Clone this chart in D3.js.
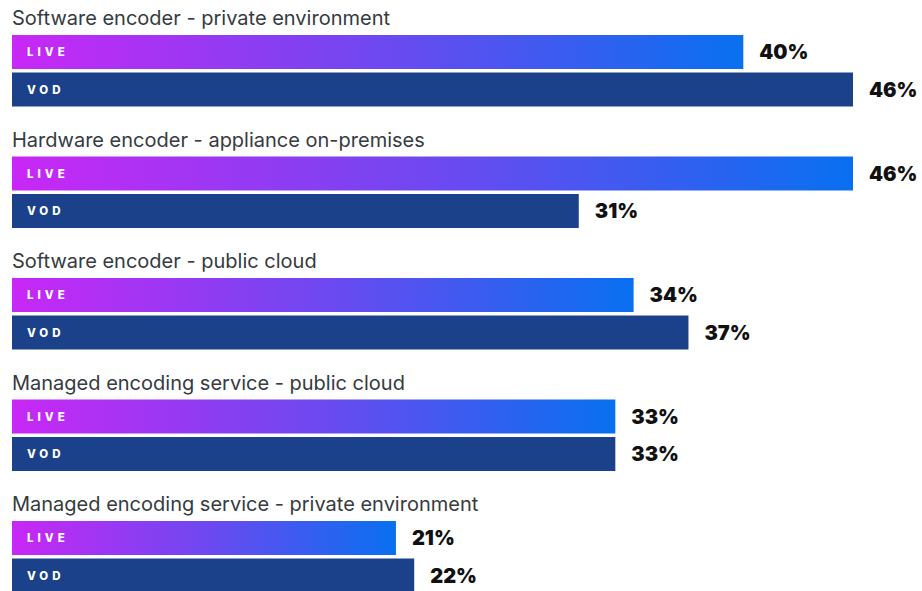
<!DOCTYPE html>
<html>
<head>
<meta charset="utf-8">
<script src="https://cdn.jsdelivr.net/npm/d3@7"></script>
<style>
  html, body { margin: 0; padding: 0; background: #fff; }
  svg { display: block; }
</style>
</head>
<body>
<svg id="chart" width="922" height="591"></svg>
<script>
// Encoding setups and the share of respondents using each, for live and VOD workflows
const categories = [
  "Software encoder - private environment",
  "Hardware encoder - appliance on-premises",
  "Software encoder - public cloud",
  "Managed encoding service - public cloud",
  "Managed encoding service - private environment"
];
const seriesNames = ["LIVE", "VOD"];
const liveValues = [40, 46, 34, 33, 21];
const vodValues = [46, 31, 37, 33, 22];

const rows = categories.map((c, i) => ({
  category: c,
  values: [
    { key: "LIVE", value: liveValues[i] },
    { key: "VOD", value: vodValues[i] }
  ]
}));

const svg = d3.select("#chart");

// Horizontal gradient used by the live bars, stretched over each bar's own length
const defs = svg.append("defs");
const grad = defs.append("linearGradient")
  .attr("id", "liveGradient")
  .attr("x1", "0%").attr("x2", "100%")
  .attr("y1", "0%").attr("y2", "0%");
grad.append("stop").attr("offset", "0%").attr("stop-color", "#c927f5");
grad.append("stop").attr("offset", "50%").attr("stop-color", "#6e48f0");
grad.append("stop").attr("offset", "100%").attr("stop-color", "#0870f0");

const x = d3.scaleLinear().domain([0, 46]).range([12, 853]);

const yGroup = d3.scaleBand()
  .domain(categories)
  .range([17, 17 + 5 * 121.5])
  .paddingInner(0)
  .paddingOuter(0);

const titleH = 18;
const ySeries = d3.scaleBand()
  .domain(seriesNames)
  .range([0, 71.5])
  .paddingInner(3.5 / 37.5)
  .paddingOuter(0);

const fill = { LIVE: "url(#liveGradient)", VOD: "#1b418a" };

const groups = svg.selectAll("g.group")
  .data(rows)
  .join("g")
  .attr("class", "group")
  .attr("transform", d => `translate(0,${yGroup(d.category)})`);

groups.append("text")
  .attr("x", 12)
  .attr("y", titleH - 10)
  .attr("font-family", "Inter, 'Noto Sans', sans-serif")
  .attr("font-size", 20)
  .attr("fill", "#353b41")
  .text(d => d.category);

const bars = groups.selectAll("g.bar")
  .data(d => d.values)
  .join("g")
  .attr("class", "bar")
  .attr("transform", d => `translate(0,${titleH + ySeries(d.key)})`);

bars.append("rect")
  .attr("x", x(0))
  .attr("y", 0)
  .attr("width", d => x(d.value) - x(0))
  .attr("height", ySeries.bandwidth())
  .attr("fill", d => fill[d.key]);

bars.append("text")
  .attr("x", 27)
  .attr("y", ySeries.bandwidth() / 2)
  .attr("dy", "0.36em")
  .attr("font-family", "Inter, 'Noto Sans', sans-serif")
  .attr("font-size", 11.5)
  .attr("font-weight", 800)
  .attr("letter-spacing", "4px")
  .attr("fill", "#ffffff")
  .text(d => d.key);

bars.append("text")
  .attr("x", d => x(d.value) + 16)
  .attr("y", ySeries.bandwidth() / 2)
  .attr("dy", "0.36em")
  .attr("font-family", "Inter, 'Noto Sans', sans-serif")
  .attr("font-size", 20)
  .attr("font-weight", 900)
  .attr("fill", "#111111")
  .text(d => d.value + "%");
</script>
</body>
</html>
